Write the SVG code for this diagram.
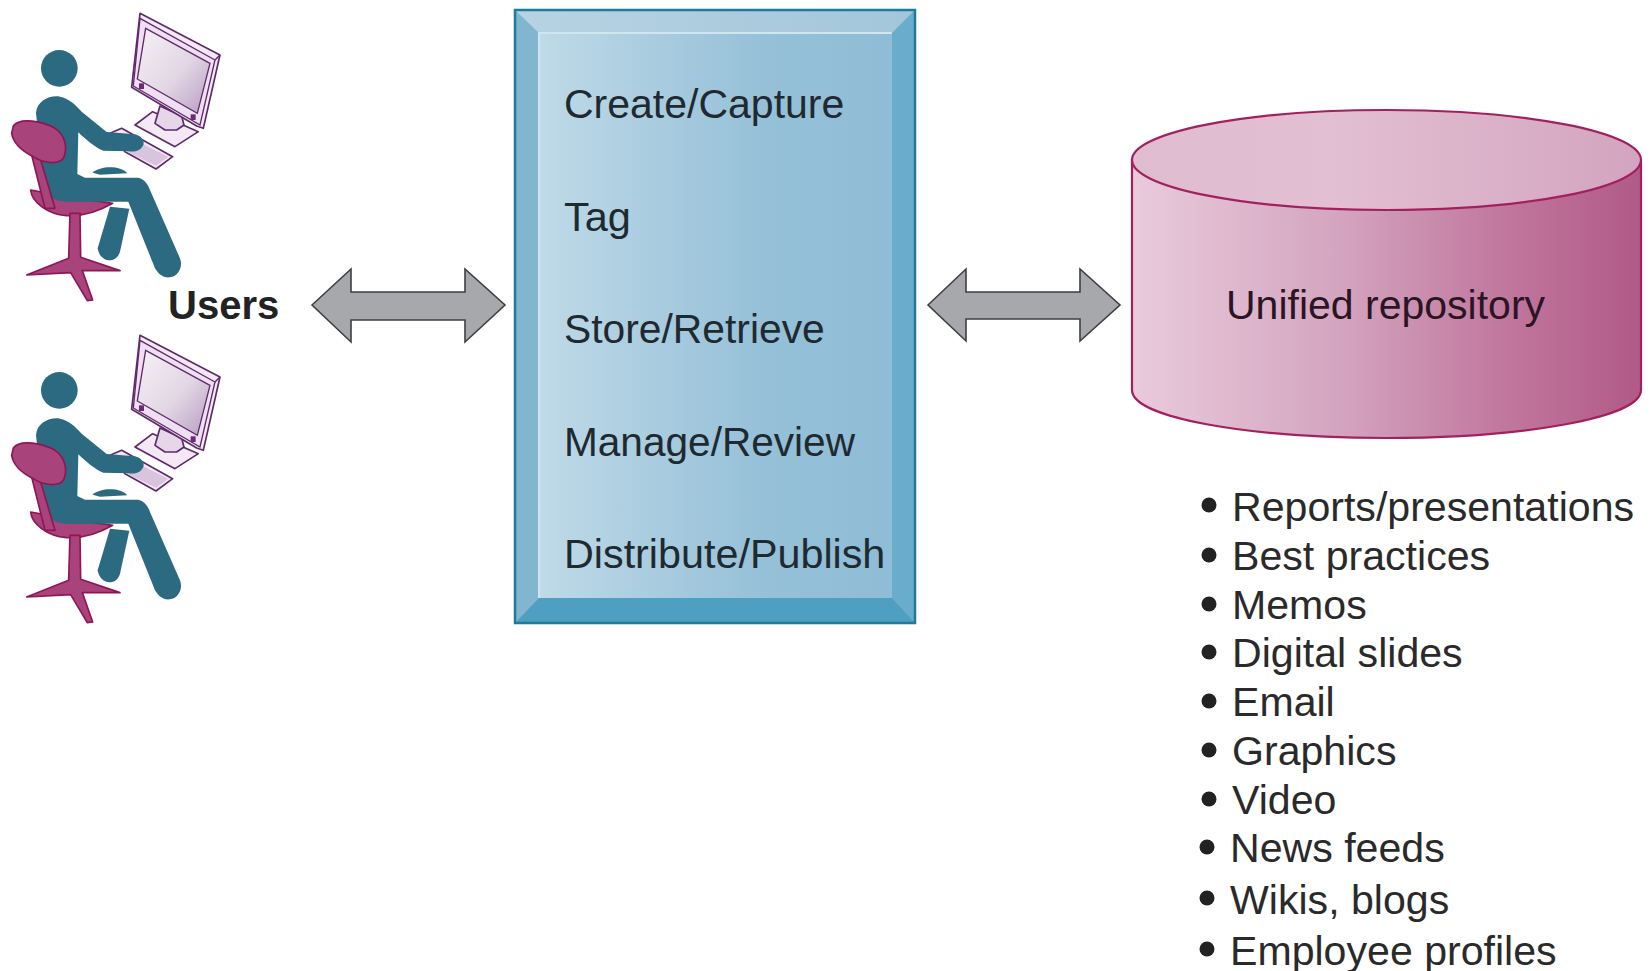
<svg xmlns="http://www.w3.org/2000/svg" xmlns:xlink="http://www.w3.org/1999/xlink" width="1651" height="971" viewBox="0 0 1651 971">
<style>
text{font-family:"Liberation Sans",Arial,sans-serif;font-size:40.8px;fill:#1f2a30}
.b{fill:#2b6a80}
.c{fill:#a9437b;stroke:#8f1655;stroke-width:5;stroke-linejoin:round}
.m{fill:#f3e8f3;stroke:#5f2a6a;stroke-width:5;stroke-linejoin:round}
.arrow{fill:#a7a8ab;stroke:#3f3f42;stroke-width:1.6;stroke-linejoin:miter}
.li{fill:#2a2a2a;font-size:41.100px}
.dot{fill:#222}
</style>
<defs>
<linearGradient id="face" x1="0" x2="1" y1="0" y2="0"><stop offset="0" stop-color="#bfdae8"/><stop offset=".35" stop-color="#a8cbdf"/><stop offset=".65" stop-color="#95c0d8"/><stop offset="1" stop-color="#8fbcd6"/></linearGradient>
<linearGradient id="topb" x1="0" x2="1" y1="0" y2="0"><stop offset="0" stop-color="#b7d3e3"/><stop offset="1" stop-color="#a3c6da"/></linearGradient>
<linearGradient id="cylBody" x1="0" x2="1" y1="0" y2="0"><stop offset="0" stop-color="#e9cbdc"/><stop offset=".4" stop-color="#d4a5c0"/><stop offset=".75" stop-color="#c0759c"/><stop offset="1" stop-color="#b05a87"/></linearGradient>
<linearGradient id="cylTop" x1="0" x2="1" y1="0" y2="0"><stop offset="0" stop-color="#e0bcd0"/><stop offset=".4" stop-color="#e2bfd2"/><stop offset="1" stop-color="#d3a4bf"/></linearGradient>
<linearGradient id="screen" x1="0" x2="1" y1="0" y2="1"><stop offset="0" stop-color="#f6f2f6"/><stop offset=".55" stop-color="#e2d6e4"/><stop offset="1" stop-color="#b79cc2"/></linearGradient>
<g id="person" transform="scale(.3333)">
  <!-- monitor -->
  <path class="m" d="M405,375 L458,335 L595,395 L525,440 Z"/>
  <path class="m" style="fill:#e6d6e8" d="M480,318 L545,348 L552,375 L530,390 L495,390 L465,370 Z"/>
  <path class="m" d="M420,40 L660,165 L610,385 L590,378 L395,262 Z"/>
  <path fill="#efdff2" stroke="#5f2a6a" stroke-width="4" d="M420,55 L400,258 L600,375 L645,180 Z"/>
  <path fill="none" stroke="#5f2a6a" stroke-width="4" d="M645,180 L660,165"/>
  <path fill="url(#screen)" stroke="#5f2a6a" stroke-width="4" d="M437,85 L630,190 L592,340 L412,237 Z"/>
  <rect x="417" y="250" width="15" height="17" fill="#6a2a75"/>
  <rect x="572" y="343" width="15" height="17" fill="#6a2a75"/>
  <!-- keyboard -->
  <path class="m" d="M330,400 L365,385 L518,470 L468,507 L375,455 Z"/>
  <path fill="#d8c4dc" d="M375,452 L415,425 L505,470 L468,497 Z"/>
  <!-- chair -->
  <path class="c" d="M92,570 C95,605 140,642 200,647 C250,650 300,632 338,610 L200,590 Z"/>
  <path class="c" d="M210,640 L240,640 L242,772 L360,812 L247,812 L278,900 L262,902 L212,818 L80,825 L206,775 Z"/>
  <!-- person -->
  <path class="b" d="M278,518 C300,498 360,495 382,520 L300,524 Z"/>
  <path class="b" d="M330,620 L388,626 L360,755 C350,792 300,790 293,745 Z"/>
  <circle class="b" cx="178" cy="205" r="55"/>
  <path class="b" d="M108,340 C110,302 150,285 180,290 C205,295 225,312 245,335 L320,396 L405,403 C427,408 434,425 430,435 C422,452 405,457 385,454 L310,452 C290,447 250,412 235,397 L232,522 L255,533 L415,533 C435,538 445,555 450,570 L540,775 C550,800 535,830 510,832 C490,835 475,822 465,805 L385,605 L200,605 C160,605 140,590 130,540 Z"/>
  <path class="c" d="M95,465 L122,480 L165,625 L135,625 Z"/>
  <path class="c" d="M40,378 C60,350 130,365 165,385 C195,405 205,445 190,475 C175,495 130,490 100,470 C70,455 40,430 35,400 Z"/>
</g>
</defs>
<rect width="1651" height="971" fill="#fff"/>
<g id="connectors">
  <path class="arrow" d="M312,305 L351,269 L351,292 L465,292 L465,269 L505,305 L465,342 L465,320 L351,320 L351,342 Z"/>
  <path class="arrow" d="M928,305 L966,269 L966,292 L1080,292 L1080,269 L1120,305 L1080,341 L1080,319 L966,319 L966,341 Z"/>
</g>
<g id="user-1"><use href="#person"/><text x="168" y="319" font-weight="700" style="font-size:40px;fill:#222">Users</text></g>
<g id="user-2"><use href="#person" transform="translate(0,322)"/></g>
<g id="process">
  <rect x="515" y="10" width="400" height="613" fill="#82b5cf"/>
  <path d="M515,10 H915 L892,33 H539 Z" fill="url(#topb)"/>
  <path d="M915,10 V623 L892,598 V33 Z" fill="#6aaccb"/>
  <path d="M515,623 L539,598 H892 L915,623 Z" fill="#4f9fc0"/>
  <rect x="539" y="33" width="353" height="565" fill="url(#face)"/>
  <path d="M539,598 V33 H892" fill="none" stroke="#cfe5f0" stroke-width="2"/>
  <rect x="515" y="10" width="400" height="613" fill="none" stroke="#1f7a9c" stroke-width="2.5"/>
  <text x="564" y="118" style="font-size:41px">Create/Capture</text>
  <text x="564" y="231" style="font-size:41.500px">Tag</text>
  <text x="564" y="343">Store/Retrieve</text>
  <text x="564" y="456" style="font-size:40.600px">Manage/Review</text>
  <text x="564" y="568" style="font-size:41.300px">Distribute/Publish</text>
</g>
<g id="repository">
  <path d="M1132,160 V390 C1132,418 1250,438 1386,438 C1522,438 1641,418 1641,390 V160 Z" fill="url(#cylBody)" stroke="#a3205f" stroke-width="2.2"/>
  <ellipse cx="1386.500" cy="160" rx="254.500" ry="50" fill="url(#cylTop)" stroke="#a3205f" stroke-width="2.2"/>
  <text x="1226" y="319" style="fill:#2b1522;font-size:41px">Unified repository</text>
</g>
<g id="content-list">
  <circle class="dot" cx="1209" cy="505" r="7.500"/><text class="li" x="1232" y="521">Reports/presentations</text>
  <circle class="dot" cx="1209" cy="555" r="7.500"/><text class="li" x="1232" y="570">Best practices</text>
  <circle class="dot" cx="1209" cy="604" r="7.500"/><text class="li" x="1232" y="619">Memos</text>
  <circle class="dot" cx="1209" cy="652" r="7.500"/><text class="li" x="1232" y="667">Digital slides</text>
  <circle class="dot" cx="1209" cy="701" r="7.500"/><text class="li" x="1232" y="716">Email</text>
  <circle class="dot" cx="1209" cy="750" r="7.500"/><text class="li" x="1232" y="765">Graphics</text>
  <circle class="dot" cx="1209" cy="799" r="7.500"/><text class="li" x="1232" y="814">Video</text>
  <circle class="dot" cx="1207" cy="847" r="7.500"/><text class="li" x="1230" y="862">News feeds</text>
  <circle class="dot" cx="1207" cy="898" r="7.500"/><text class="li" x="1230" y="914">Wikis, blogs</text>
  <circle class="dot" cx="1207" cy="949" r="7.500"/><text class="li" x="1230" y="965">Employee profiles</text>
</g>
</svg>
